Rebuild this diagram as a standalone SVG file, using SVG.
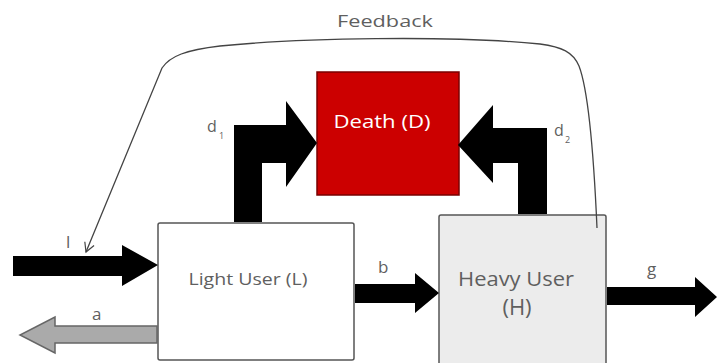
<svg xmlns="http://www.w3.org/2000/svg" width="717" height="363" viewBox="0 0 717 363">
  <style>
    .lbl { font-family: "Open Sans", "Noto Sans", "Liberation Sans", sans-serif; fill: #5f5f5f; }
    .flow { fill: #000; }
    .box { stroke: #555; stroke-width: 1.5; }
  </style>
  <defs>
    <marker id="open-head" markerWidth="12" markerHeight="12" refX="10" refY="6" orient="auto" markerUnits="userSpaceOnUse">
      <polyline points="1,1 10,6 1,11" fill="none" stroke="#444" stroke-width="1.2"/>
    </marker>
  </defs>

  <rect width="717" height="363" fill="#fff"/>

  <!-- nodes -->
  <g id="death">
    <rect x="317" y="72" width="142" height="123" fill="#cc0000" stroke="#7a0000" stroke-width="1.5"/>
    <text x="382" y="128" text-anchor="middle" font-family="Open Sans, Noto Sans, Liberation Sans, sans-serif" font-size="18" fill="#fff" textLength="97" lengthAdjust="spacingAndGlyphs">Death (D)</text>
  </g>

  <g id="light-user">
    <rect class="box" x="158" y="223" width="196" height="137" rx="2" fill="#fff"/>
    <text class="lbl" x="248" y="285" text-anchor="middle" font-size="16.5" textLength="119" lengthAdjust="spacingAndGlyphs">Light User (L)</text>
  </g>

  <g id="heavy-user">
    <rect class="box" x="439" y="215" width="167" height="160" rx="2" fill="#ececec"/>
    <text class="lbl" x="516" y="286" text-anchor="middle" font-size="20" textLength="116" lengthAdjust="spacingAndGlyphs">Heavy User</text>
    <text class="lbl" x="517" y="315" text-anchor="middle" font-size="22">(H)</text>
  </g>

  <!-- connectors -->
  <g id="connectors">
    <!-- feedback loop from Heavy User back to the inflow -->
    <path d="M597,228 C594,160 589,92 579,66 C573,52 562,47 540,44 C450,35 300,38 220,46 C186,50 170,56 162,68 L86,252"
          fill="none" stroke="#444" stroke-width="1.3" marker-end="url(#open-head)"/>
    <!-- inflow l -->
    <polygon class="flow" points="13,256 122,256 122,245 158,265 122,286 122,276 13,276"/>
    <!-- outflow a -->
    <polygon points="157,326 55,326 55,317 20,335 55,353 55,343 157,343" fill="#aaa" stroke="#666" stroke-width="1.5"/>
    <!-- transition b -->
    <polygon class="flow" points="355,284 415,284 415,273 439,293 415,313 415,303 355,303"/>
    <!-- outflow g -->
    <polygon class="flow" points="607,287 695,287 695,277 717,297 695,317 695,305 607,305"/>
    <!-- death flow d1 -->
    <polygon class="flow" points="234,222 234,125 286,125 286,101 317,143 286,187 286,163 262,163 262,222"/>
    <!-- death flow d2 -->
    <polygon class="flow" points="547,214 547,128 493,128 493,105 458,145 493,183 493,163 518,163 518,214"/>
  </g>

  <!-- flow labels -->
  <g id="labels">
    <text class="lbl" x="385" y="27" text-anchor="middle" font-size="17" textLength="96" lengthAdjust="spacingAndGlyphs">Feedback</text>
    <text class="lbl" x="207" y="132" font-size="16">d</text>
    <text class="lbl" x="219" y="139" font-size="9">1</text>
    <text class="lbl" x="554" y="136" font-size="16">d</text>
    <text class="lbl" x="565" y="143" font-size="9">2</text>
    <text class="lbl" x="66" y="248" font-size="17">l</text>
    <text class="lbl" x="92" y="320" font-size="17">a</text>
    <text class="lbl" x="378" y="273" font-size="17">b</text>
    <text class="lbl" x="647" y="275" font-size="17">g</text>
  </g>
</svg>
